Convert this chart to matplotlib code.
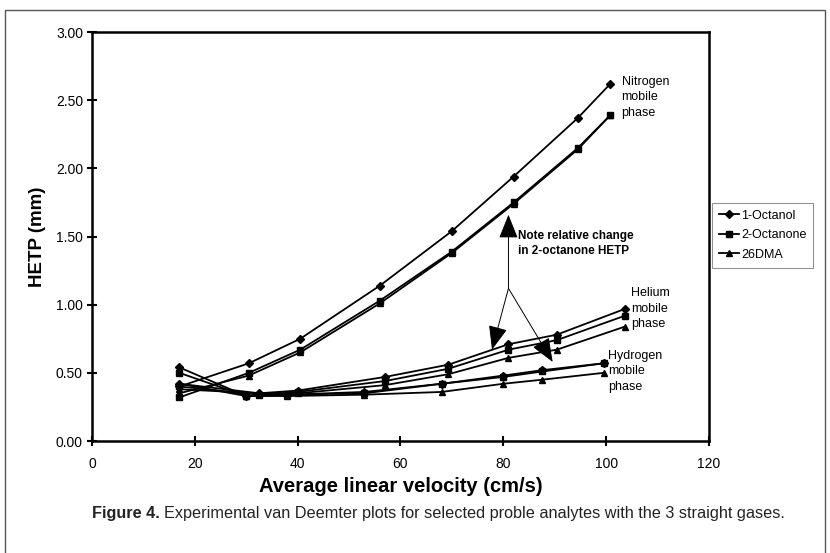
import matplotlib.pyplot as plt
from matplotlib.patches import Rectangle

plt.rcParams['font.family'] = ['Liberation Sans', 'DejaVu Sans']

# Nitrogen mobile phase
n_vel = [17, 30.5, 40.5, 56, 70, 82, 94.5, 100.8]
n_octanol = [0.40, 0.57, 0.75, 1.14, 1.54, 1.94, 2.37, 2.62]
n_octanone = [0.32, 0.50, 0.67, 1.03, 1.39, 1.75, 2.15, 2.39]
n_dma = [0.35, 0.48, 0.65, 1.01, 1.38, 1.74, 2.14, 2.39]

# Helium mobile phase
he_vel = [17, 32.5, 40, 57, 69.3, 81, 90.4, 103.7]
he_octanol = [0.42, 0.35, 0.37, 0.47, 0.56, 0.71, 0.78, 0.97]
he_octanone = [0.40, 0.34, 0.36, 0.44, 0.53, 0.67, 0.74, 0.92]
he_dma = [0.38, 0.35, 0.35, 0.41, 0.49, 0.61, 0.67, 0.84]

# Hydrogen mobile phase
h_vel = [17, 30, 38, 53, 68, 80, 87.6, 99.5]
h_octanol = [0.54, 0.33, 0.34, 0.36, 0.42, 0.48, 0.52, 0.57]
h_octanone = [0.50, 0.33, 0.34, 0.35, 0.42, 0.47, 0.51, 0.57]
h_dma = [0.42, 0.33, 0.33, 0.34, 0.36, 0.42, 0.45, 0.50]

analytes = ['1-Octanol', '2-Octanone', '26DMA']
markers = {'1-Octanol': 'D', '2-Octanone': 's', '26DMA': '^'}
msizes = {'1-Octanol': 4, '2-Octanone': 4.5, '26DMA': 5}

gases = [
    (n_vel, [n_octanol, n_octanone, n_dma]),
    (he_vel, [he_octanol, he_octanone, he_dma]),
    (h_vel, [h_octanol, h_octanone, h_dma]),
]

fig = plt.figure(figsize=(8.3, 5.53), dpi=100)
ax = fig.add_axes([0.1108, 0.2025, 0.7434, 0.7395])

for g, (vel, series) in enumerate(gases):
    for name, vals in zip(analytes, series):
        ax.plot(vel, vals, color='black', lw=1.3, marker=markers[name],
                markersize=msizes[name], label=name if g == 0 else None)

ax.set_xlim(0, 120)
ax.set_ylim(0, 3.0)
ax.set_xticks(range(0, 121, 20))
ax.set_yticks([0, 0.5, 1.0, 1.5, 2.0, 2.5, 3.0])
ax.set_yticklabels(['0.00', '0.50', '1.00', '1.50', '2.00', '2.50', '3.00'])
ax.tick_params(direction='inout', length=7, width=1.5, labelsize=10, pad=3)
ax.tick_params(axis='x', pad=8)
for s in ax.spines.values():
    s.set_linewidth(1.8)

ax.set_xlabel('Average linear velocity (cm/s)', fontsize=14.5, fontweight='bold', labelpad=4)
ax.set_ylabel('HETP (mm)', fontsize=13.5, fontweight='bold', labelpad=7)

# gas labels
ax.text(103, 2.68, 'Nitrogen\nmobile\nphase', fontsize=9, va='top', ha='left', linespacing=1.4)
ax.text(104.9, 1.13, 'Helium\nmobile\nphase', fontsize=9, va='top', ha='left', linespacing=1.4)
ax.text(100.4, 0.67, 'Hydrogen\nmobile\nphase', fontsize=9, va='top', ha='left', linespacing=1.4)

# annotation with three arrows
ax.text(82.8, 1.45, 'Note relative change\nin 2-octanone HETP', fontsize=8.5,
        fontweight='bold', va='center', ha='left', linespacing=1.4)
junction = (81, 1.12)
for tip in [(81, 1.66), (77.8, 0.67), (89.6, 0.58)]:
    ax.annotate('', xy=tip, xytext=junction,
                arrowprops=dict(arrowstyle='-|>,head_length=1.5,head_width=0.6',
                                color='black', lw=0.7, shrinkA=0, shrinkB=0))

leg = ax.legend(loc='upper left', bbox_to_anchor=(0.8575, 0.633),
                bbox_transform=fig.transFigure, fontsize=9, frameon=True,
                fancybox=False, edgecolor='#777777', handlelength=1.6,
                borderpad=0.55, labelspacing=0.6, handletextpad=0.2,
                borderaxespad=0)
leg.get_frame().set_linewidth(0.8)
for h in leg.legend_handles:
    h.set_markersize(4)

# outer frame of the figure panel
fig.patches.append(Rectangle((0.006, -0.01), 0.988, 0.992, transform=fig.transFigure,
                             fill=False, edgecolor='#555555', lw=1.0))

# caption, sized so that it ends where the reference caption ends
caption = 'Experimental van Deemter plots for selected proble analytes with the 3 straight gases.'
size = 13
t1 = fig.text(0.111, 0.072, 'Figure 4.', fontsize=size, fontweight='bold',
              color='#222222', va='center')
t2 = fig.text(0.2, 0.072, caption, fontsize=size, color='#222222', va='center')
fig.canvas.draw()
r = fig.canvas.get_renderer()
total = t1.get_window_extent(r).width + 4 + t2.get_window_extent(r).width
size = size * (782 - 92) / total
t1.set_fontsize(size)
t2.set_fontsize(size)
fig.canvas.draw()
t2.set_x((t1.get_window_extent(r).x1 + 4) / fig.bbox.width)

fig.savefig('out.png', dpi=100)
